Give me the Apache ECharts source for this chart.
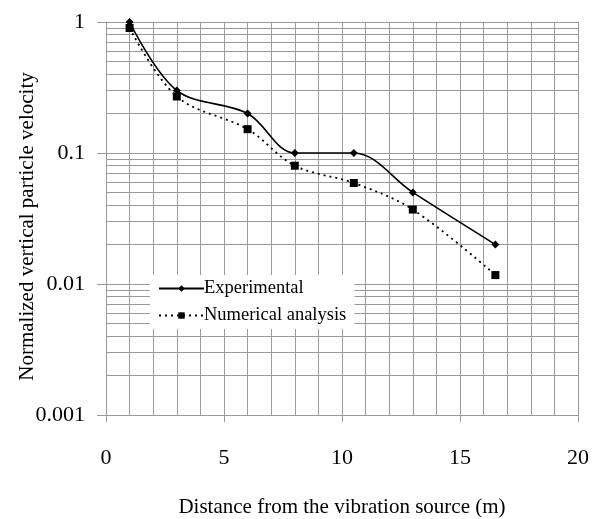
<!DOCTYPE html>
<html>
<head>
<meta charset="utf-8">
<script src="https://cdn.jsdelivr.net/npm/echarts@6/dist/echarts.min.js"></script>
<style>html,body{margin:0;padding:0;background:#fff;}#c{width:606px;height:519px;}</style>
</head>
<body>
<div id="c"></div>
<script>
var distance = [1, 3, 6, 8, 10.5, 13, 16.5];
var experimental = [1.0, 0.30, 0.20, 0.10, 0.10, 0.050, 0.020];
var numerical = [0.90, 0.27, 0.152, 0.080, 0.059, 0.037, 0.0117];
var yRange = [0.001, 1];
var xRange = [0, 20];
var minorGridValues = [0.002,0.003,0.004,0.005,0.006,0.007,0.008,0.009,
                       0.02,0.03,0.04,0.05,0.06,0.07,0.08,0.09,
                       0.2,0.3,0.4,0.5,0.6,0.7,0.8,0.9];

function pairs(xs, ys){ return xs.map(function(x,i){return [x, ys[i]];}); }

var font = 'Liberation Serif';
var gridColor = '#9a9a9a';
var chart = echarts.init(document.getElementById('c'));
chart.setOption({
  animation: false,
  backgroundColor: '#fff',
  grid: {left: 106, right: 28, top: 22, bottom: 104, outerBoundsMode: 'none', containLabel: false},
  xAxis: {
    type: 'value', min: xRange[0], max: xRange[1], interval: 5,
    name: 'Distance from the vibration source (m)',
    nameLocation: 'middle', nameGap: 82, nameMoveOverlap: false,
    nameTextStyle: {fontFamily: font, fontSize: 21, color: '#000'},
    axisLine: {show: true, lineStyle: {color: gridColor, width: 1}},
    axisTick: {show: true, length: 7, lineStyle: {color: gridColor}},
    axisLabel: {fontFamily: font, fontSize: 22, color: '#000', margin: 32},
    splitLine: {show: true, lineStyle: {color: gridColor, width: 1}},
    minorTick: {show: false, splitNumber: 5},
    minorSplitLine: {show: true, lineStyle: {color: gridColor, width: 1}}
  },
  yAxis: {
    type: 'log', logBase: 10, min: yRange[0], max: yRange[1],
    name: 'Normalized vertical particle velocity',
    nameLocation: 'middle', nameGap: 68, nameMoveOverlap: false,
    nameTextStyle: {fontFamily: font, fontSize: 21, color: '#000', padding: [0, 16, 0, 0]},
    axisLine: {show: true, lineStyle: {color: gridColor, width: 1}},
    axisTick: {show: true, length: 9, lineStyle: {color: gridColor}},
    axisLabel: {fontFamily: font, fontSize: 22, color: '#000', margin: 21,
      formatter: function(v){ return String(parseFloat(v.toPrecision(3))); }},
    splitLine: {show: true, lineStyle: {color: gridColor, width: 1}}
  },
  legend: {
    orient: 'vertical', left: 150, top: 275, z: 20,
    itemWidth: 45, itemHeight: 8, itemGap: 8,
    backgroundColor: '#fff', padding: [4, 8, 4, 8],
    textStyle: {fontFamily: font, fontSize: 18.5, color: '#000', padding: [0,0,0,-5]},
    data: ['Experimental', 'Numerical analysis']
  },
  series: [
    {
      name: 'grid', type: 'line', silent: true,
      data: [[xRange[0], yRange[0]], [xRange[1], yRange[1]]],
      showSymbol: false, lineStyle: {opacity: 0}, z: 1,
      markLine: {
        silent: true, precision: 6, z: 1, symbol: ['none','none'], label: {show: false},
        lineStyle: {color: gridColor, width: 1, type: 'solid'},
        emphasis: {disabled: true},
        data: minorGridValues.map(function(v){ return {yAxis: v}; })
      }
    },
    {
      name: 'Experimental', type: 'line', smooth: 0.35,
      data: pairs(distance, experimental),
      symbol: 'diamond', symbolSize: 8,
      itemStyle: {color: '#000'},
      lineStyle: {color: '#000', width: 1.6, type: 'solid'},
      z: 5
    },
    {
      name: 'Numerical analysis', type: 'line', smooth: 0.35,
      data: pairs(distance, numerical),
      symbol: 'rect', symbolSize: 8,
      itemStyle: {color: '#000'},
      lineStyle: {color: '#000', width: 1.8, type: [2, 4]},
      z: 5
    }
  ]
});
</script>
</body>
</html>
